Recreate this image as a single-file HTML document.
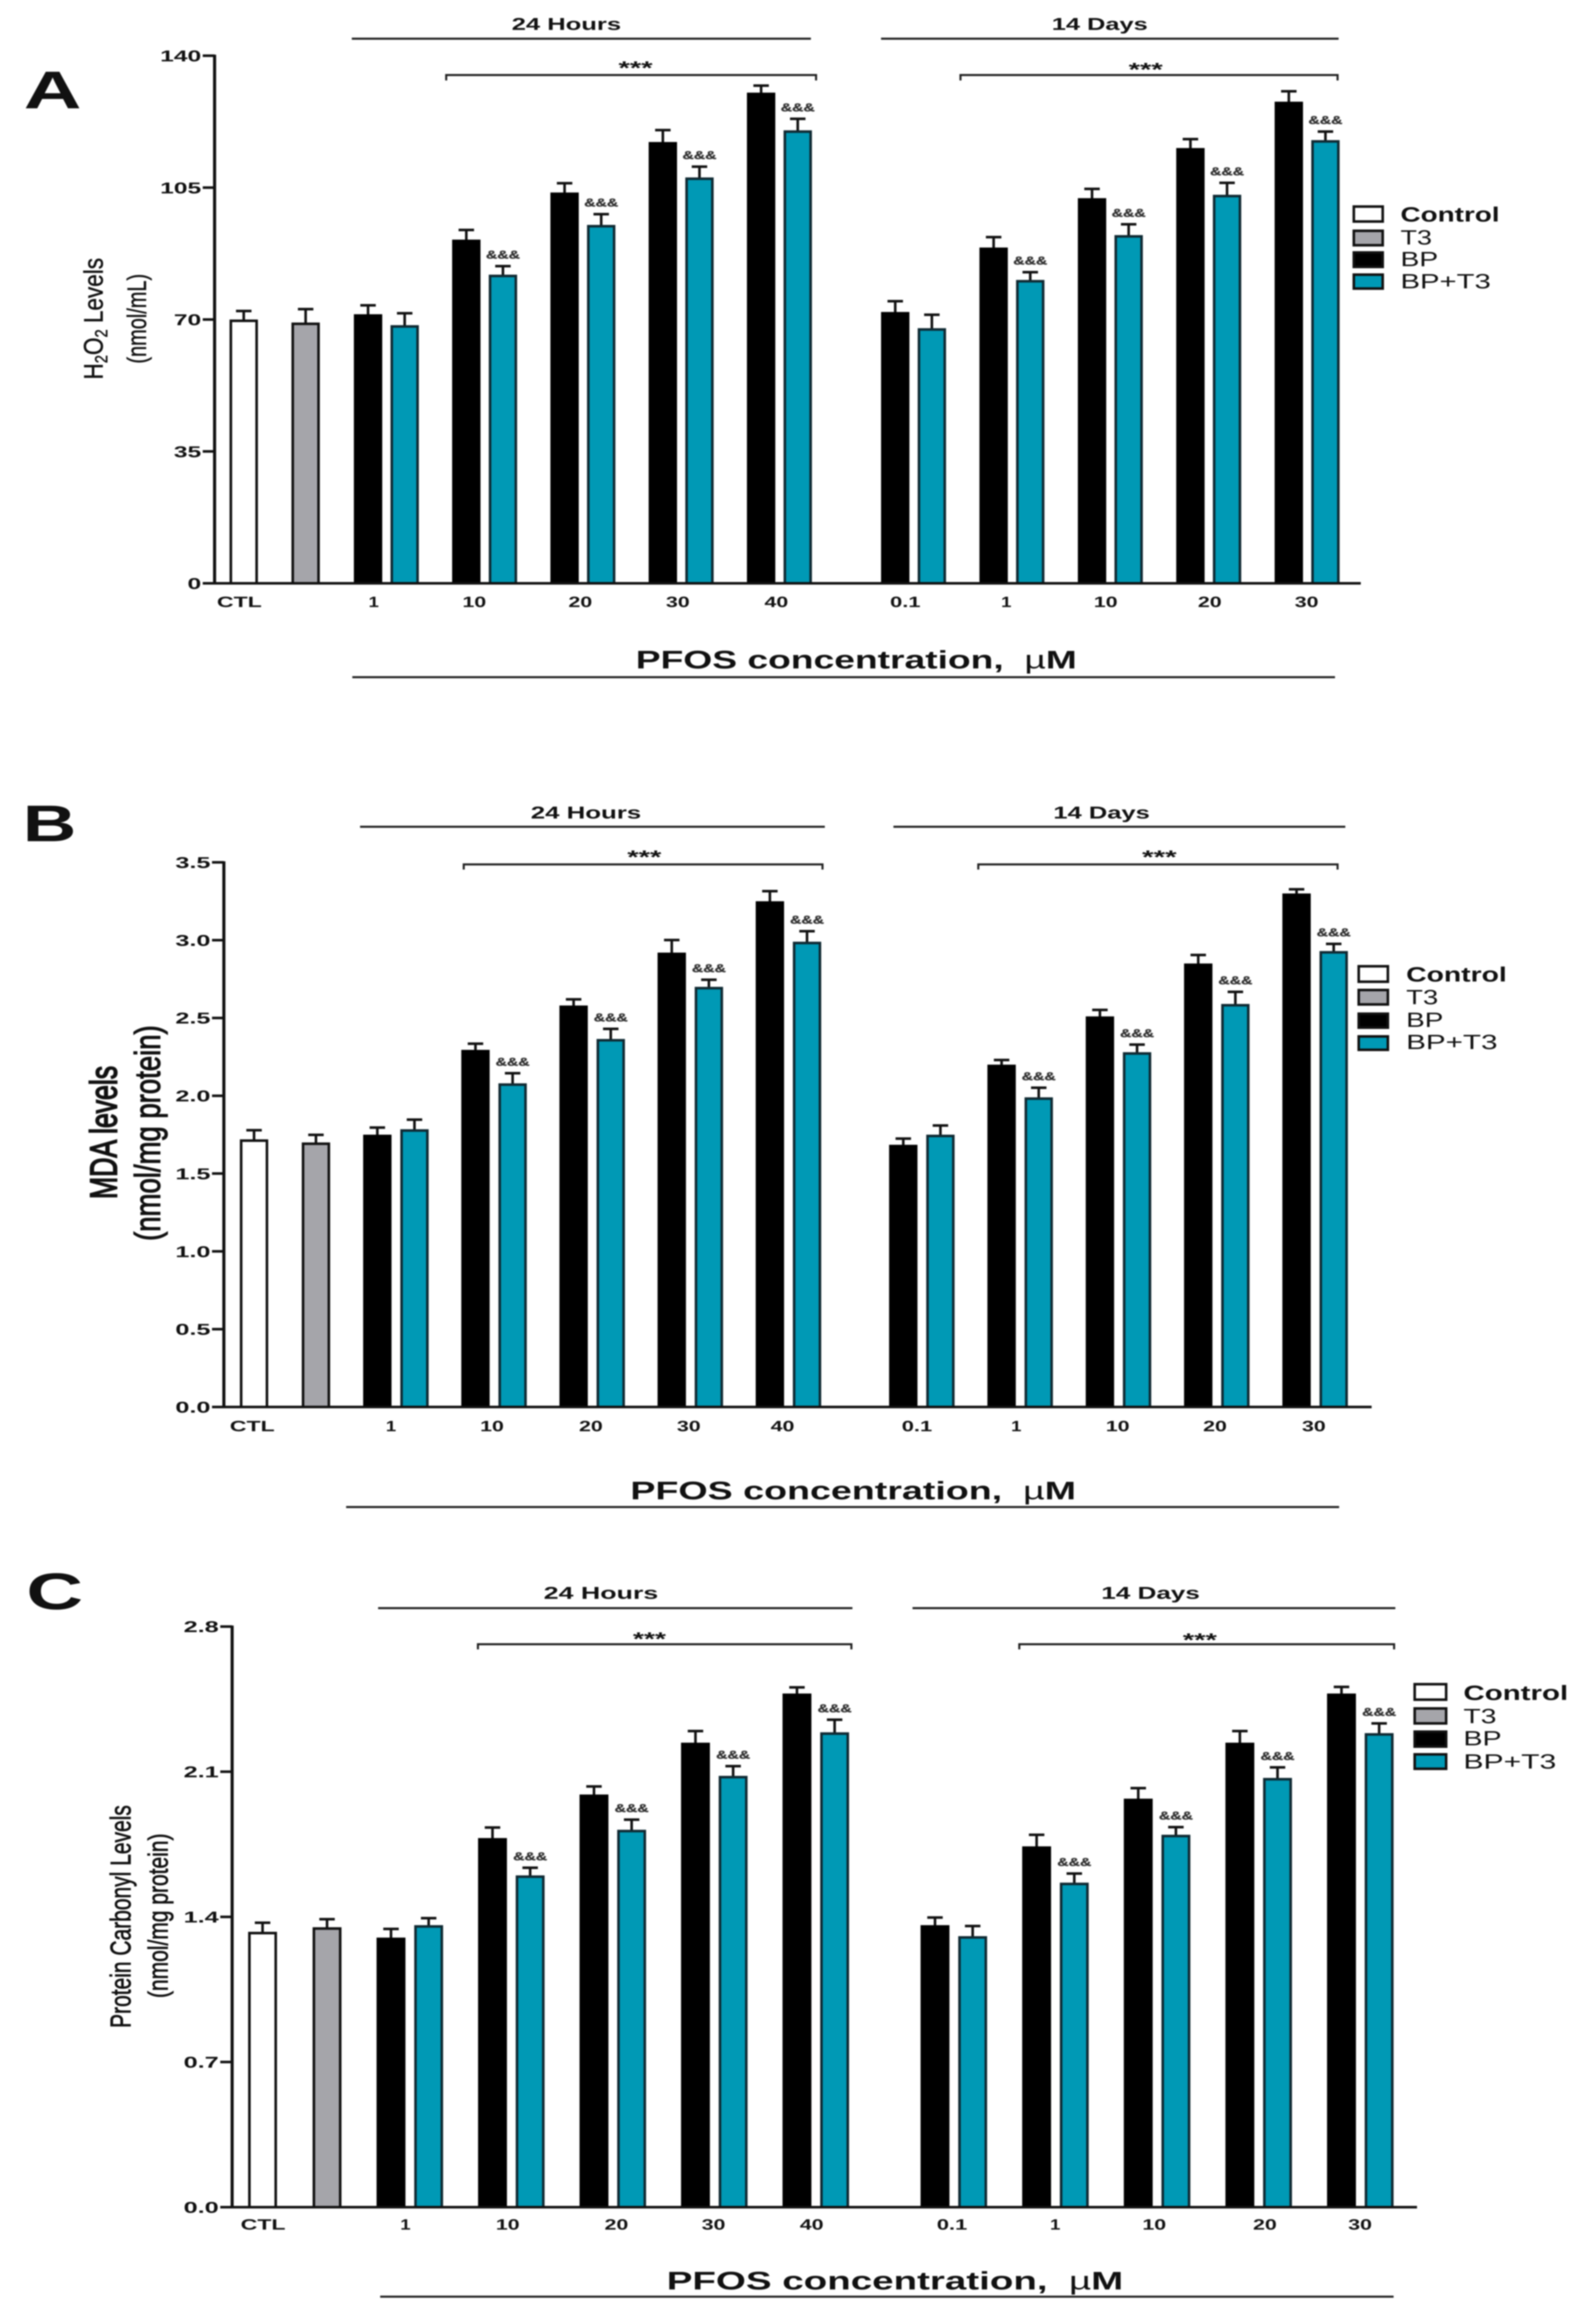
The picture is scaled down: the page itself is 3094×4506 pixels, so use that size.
<!DOCTYPE html>
<html lang="en">
<head>
<meta charset="utf-8">
<title>Oxidative stress markers after PFOS exposure</title>
<style>
html,body{margin:0;padding:0;background:#fff;}
svg{display:block;filter:blur(1.4px);}
text{font-family:"Liberation Sans",Arial,sans-serif;fill:#111;}
.b{font-weight:700;}
.m{text-anchor:middle;}
.line{stroke:#222;stroke-width:4;fill:none;}
.box{stroke:#111;stroke-width:5;}
</style>
</head>
<body>
<svg id="figure" xmlns="http://www.w3.org/2000/svg" width="3094" height="4506" viewBox="0 0 3094 4506">
<rect width="3094" height="4506" fill="#fff"/>

<g id="panel-a">
<text class="b m" x="102" y="210" font-size="103" textLength="112" lengthAdjust="spacingAndGlyphs">A</text>
<text class="m" font-size="52" stroke="#111" stroke-width="0.8" transform="translate(199,618) rotate(-90) scale(0.84,1)">H<tspan font-size="34" dy="9">2</tspan><tspan dy="-9">O</tspan><tspan font-size="34" dy="9">2</tspan><tspan dy="-9"> Levels</tspan></text>
<text class="m" font-size="52" stroke="#111" stroke-width="0.8" textLength="174" lengthAdjust="spacingAndGlyphs" transform="translate(283,618) rotate(-90)">(nmol/mL)</text>
<text class="b m" x="1098" y="58" font-size="33" textLength="212" lengthAdjust="spacingAndGlyphs">24 Hours</text>
<line class="line" x1="682" y1="75" x2="1572" y2="75"/>
<text class="b m" x="2132" y="58" font-size="33" textLength="186" lengthAdjust="spacingAndGlyphs">14 Days</text>
<line class="line" x1="1708" y1="75" x2="2595" y2="75"/>
<path class="line" d="M865 156V145.5H1582V156"/>
<text class="b m" x="1232" y="144" font-size="36" textLength="66" lengthAdjust="spacingAndGlyphs">***</text>
<path class="line" d="M1862 156V145.5H2593V156"/>
<text class="b m" x="2221" y="147" font-size="36" textLength="66" lengthAdjust="spacingAndGlyphs">***</text>
<text class="b m" x="1660" y="1296" font-size="49" textLength="855" lengthAdjust="spacingAndGlyphs">PFOS concentration,&#160;&#160;<tspan font-weight="400">µ</tspan>M</text>
<line class="line" x1="683" y1="1313" x2="2588" y2="1313"/>
<g>
<rect class="box" x="2624.5" y="400.5" width="56" height="29" fill="#fff"/>
<rect class="box" x="2624.5" y="447.5" width="56" height="28" fill="#a5a5aa"/>
<rect class="box" x="2624.5" y="489.5" width="56" height="28" fill="#000"/>
<rect class="box" x="2624.5" y="532.5" width="56" height="27" fill="#0099b5"/>
<text class="b" x="2715" y="429.5" font-size="40" textLength="192" lengthAdjust="spacingAndGlyphs">Control</text>
<text x="2715" y="474" font-size="40" textLength="61" lengthAdjust="spacingAndGlyphs">T3</text>
<text x="2715" y="516" font-size="40" textLength="73" lengthAdjust="spacingAndGlyphs">BP</text>
<text x="2715" y="559" font-size="40" textLength="175" lengthAdjust="spacingAndGlyphs">BP+T3</text>
</g>
</g>

<g id="panel-b">
<text class="b m" x="96" y="1631" font-size="100" textLength="104" lengthAdjust="spacingAndGlyphs">B</text>
<text class="m" font-size="73" textLength="258" lengthAdjust="spacingAndGlyphs" stroke="#111" stroke-width="3" transform="translate(226,2195.75) rotate(-90)">MDA levels</text>
<text class="m" font-size="70" textLength="418" lengthAdjust="spacingAndGlyphs" stroke="#111" stroke-width="2" transform="translate(310,2197) rotate(-90)">(nmol/mg protein)</text>
<text class="b m" x="1136" y="1587" font-size="33" textLength="214" lengthAdjust="spacingAndGlyphs">24 Hours</text>
<line class="line" x1="698" y1="1603" x2="1599" y2="1603"/>
<text class="b m" x="2135.5" y="1587" font-size="33" textLength="187" lengthAdjust="spacingAndGlyphs">14 Days</text>
<line class="line" x1="1732" y1="1603" x2="2608" y2="1603"/>
<path class="line" d="M899 1686V1676H1594.5V1686"/>
<text class="b m" x="1249" y="1674" font-size="36" textLength="66" lengthAdjust="spacingAndGlyphs">***</text>
<path class="line" d="M1896.5 1686V1676H2593V1686"/>
<text class="b m" x="2247.5" y="1674" font-size="36" textLength="67" lengthAdjust="spacingAndGlyphs">***</text>
<text class="b m" x="1654" y="2907" font-size="49" textLength="864" lengthAdjust="spacingAndGlyphs">PFOS concentration,&#160;&#160;<tspan font-weight="400">µ</tspan>M</text>
<line class="line" x1="671" y1="2922" x2="2596" y2="2922"/>
<g>
<rect class="box" x="2634" y="1873.5" width="56.5" height="30" fill="#fff"/>
<rect class="box" x="2634" y="1919.5" width="56.5" height="28" fill="#a5a5aa"/>
<rect class="box" x="2634" y="1965.5" width="56.5" height="27" fill="#000"/>
<rect class="box" x="2634" y="2009.5" width="56.5" height="26" fill="#0099b5"/>
<text class="b" x="2726" y="1903" font-size="40" textLength="195" lengthAdjust="spacingAndGlyphs">Control</text>
<text x="2726" y="1947" font-size="40" textLength="62" lengthAdjust="spacingAndGlyphs">T3</text>
<text x="2726" y="1991" font-size="40" textLength="72" lengthAdjust="spacingAndGlyphs">BP</text>
<text x="2726" y="2034" font-size="40" textLength="177" lengthAdjust="spacingAndGlyphs">BP+T3</text>
</g>
</g>

<g id="panel-c">
<text class="b m" x="106" y="3120" font-size="100" textLength="110" lengthAdjust="spacingAndGlyphs">C</text>
<text class="m" font-size="56" textLength="432" lengthAdjust="spacingAndGlyphs" stroke="#111" stroke-width="1.2" transform="translate(253,3716) rotate(-90)">Protein Carbonyl Levels</text>
<text class="m" font-size="54" textLength="319" lengthAdjust="spacingAndGlyphs" stroke="#111" stroke-width="1.2" transform="translate(325,3714.5) rotate(-90)">(nmol/mg protein)</text>
<text class="b m" x="1165" y="3100" font-size="33" textLength="222" lengthAdjust="spacingAndGlyphs">24 Hours</text>
<line class="line" x1="733" y1="3118" x2="1652.5" y2="3118"/>
<text class="b m" x="2230.5" y="3100" font-size="33" textLength="191" lengthAdjust="spacingAndGlyphs">14 Days</text>
<line class="line" x1="1769" y1="3118" x2="2705" y2="3118"/>
<path class="line" d="M926.5 3198V3188H1650.5V3198"/>
<text class="b m" x="1259" y="3190" font-size="36" textLength="64" lengthAdjust="spacingAndGlyphs">***</text>
<path class="line" d="M1976 3198V3188H2702.6V3198"/>
<text class="b m" x="2326" y="3192" font-size="36" textLength="66" lengthAdjust="spacingAndGlyphs">***</text>
<text class="b m" x="1735" y="4439" font-size="49" textLength="885" lengthAdjust="spacingAndGlyphs">PFOS concentration,&#160;&#160;<tspan font-weight="400">µ</tspan>M</text>
<line class="line" x1="737" y1="4453" x2="2701.6" y2="4453"/>
<g>
<rect class="box" x="2742.5" y="3265.5" width="61" height="30" fill="#fff"/>
<rect class="box" x="2742.5" y="3312.5" width="61" height="29" fill="#a5a5aa"/>
<rect class="box" x="2742.5" y="3357.5" width="61" height="29" fill="#000"/>
<rect class="box" x="2742.5" y="3401.5" width="61" height="28" fill="#0099b5"/>
<text class="b" x="2837" y="3296" font-size="40" textLength="203" lengthAdjust="spacingAndGlyphs">Control</text>
<text x="2837" y="3341" font-size="40" textLength="64" lengthAdjust="spacingAndGlyphs">T3</text>
<text x="2837" y="3384" font-size="40" textLength="74" lengthAdjust="spacingAndGlyphs">BP</text>
<text x="2837" y="3429" font-size="40" textLength="180" lengthAdjust="spacingAndGlyphs">BP+T3</text>
</g>
</g>
</svg>

<script>
// Shared category labels
const controlLabels = ['CTL'];
const hourLabels = ['1', '10', '20', '30', '40'];
const dayLabels = ['0.1', '1', '10', '20', '30'];

// Panel A: H2O2 levels (nmol/mL)
const aTicks = [0, 35, 70, 105, 140];
const aTickLabels = ['0', '35', '70', '105', '140'];
const aControl = [70.0];
const aControlErr = [2.6];
const aT3 = [69.2];
const aT3Err = [3.9];
const aBpHours = [71.4, 91.2, 103.7, 117.1, 130.2];
const aBpHoursErr = [2.7, 2.9, 2.8, 3.5, 2.2];
const aBpT3Hours = [68.5, 81.9, 95.1, 107.7, 120.2];
const aBpT3HoursErr = [3.5, 2.6, 3.2, 3.2, 3.4];
const aBpDays = [72.0, 89.1, 102.2, 115.5, 127.8];
const aBpDaysErr = [3.2, 3.1, 2.8, 2.7, 3.1];
const aBpT3Days = [67.7, 80.5, 92.4, 103.1, 117.6];
const aBpT3DaysErr = [3.9, 2.4, 3.2, 3.5, 2.6];

// Panel B: MDA levels (nmol/mg protein)
const bTicks = [0, 0.5, 1, 1.5, 2, 2.5, 3, 3.5];
const bTickLabels = ['0.0', '0.5', '1.0', '1.5', '2.0', '2.5', '3.0', '3.5'];
const bControl = [1.72];
const bControlErr = [0.067];
const bT3 = [1.70];
const bT3Err = [0.057];
const bBpHours = [1.75, 2.295, 2.58, 2.92, 3.25];
const bBpHoursErr = [0.054, 0.048, 0.048, 0.089, 0.073];
const bBpT3Hours = [1.785, 2.08, 2.365, 2.70, 2.99];
const bBpT3HoursErr = [0.07, 0.073, 0.073, 0.054, 0.076];
const bBpDays = [1.685, 2.20, 2.51, 2.85, 3.30];
const bBpDaysErr = [0.048, 0.038, 0.05, 0.063, 0.035];
const bBpT3Days = [1.75, 1.99, 2.28, 2.59, 2.93];
const bBpT3DaysErr = [0.067, 0.07, 0.057, 0.086, 0.054];

// Panel C: protein carbonyl levels (nmol/mg protein)
const cTicks = [0, 0.7, 1.4, 2.1, 2.8];
const cTickLabels = ['0.0', '0.7', '1.4', '2.1', '2.8'];
const cControl = [1.328];
const cControlErr = [0.05];
const cT3 = [1.35];
const cT3Err = [0.045];
const cBpHours = [1.30, 1.78, 1.99, 2.24, 2.477];
const cBpHoursErr = [0.048, 0.057, 0.045, 0.062, 0.036];
const cBpT3Hours = [1.36, 1.60, 1.82, 2.08, 2.29];
const cBpT3HoursErr = [0.04, 0.043, 0.055, 0.053, 0.067];
const cBpDays = [1.36, 1.74, 1.97, 2.24, 2.477];
const cBpDaysErr = [0.043, 0.062, 0.057, 0.062, 0.038];
const cBpT3Days = [1.307, 1.565, 1.796, 2.07, 2.286];
const cBpT3DaysErr = [0.055, 0.05, 0.043, 0.057, 0.053];

const SVG_NS = 'http://www.w3.org/2000/svg';
const TEAL = '#0099b5';
const GRAY = '#a5a5aa';

function shape(parent, tag, attrs) {
  const el = document.createElementNS(SVG_NS, tag);
  for (const key in attrs) el.setAttribute(key, attrs[key]);
  parent.appendChild(el);
  return el;
}

function textWidth(str, digit, dot) {
  let w = 0;
  for (const ch of str) w += ch === '.' ? dot : digit;
  return w;
}

function drawBar(parent, p, y, left, value, err, fill, border) {
  const mid = left + p.barW / 2;
  const topY = y(value);
  const capY = y(value + err) + 2.5;
  const stem = shape(parent, 'line', {x1: mid, x2: mid, y1: topY + 2, y2: capY, stroke: '#111', 'stroke-width': 5});
  
  
  const cap = shape(parent, 'line', {x1: mid - 15, x2: mid + 15, y1: capY, y2: capY, stroke: '#111', 'stroke-width': 5});
  
  
  const bar = shape(parent, 'rect', {x: left + 2.5, y: topY + 2.5, width: p.barW - 5, height: p.y0 - topY - 2.5, fill: fill, stroke: border, 'stroke-width': 5});
  
  
}

function drawMark(parent, p, y, left, value, err) {
  const mark = shape(parent, 'text', {x: left + p.barW / 2, y: y(value + err) - 12, 'font-size': 22, 'font-weight': 700, 'text-anchor': 'middle', textLength: 66, lengthAdjust: 'spacingAndGlyphs', stroke: '#333', 'stroke-width': 0.6, style: 'fill:#333'});
  mark.textContent = '&&&';
  
  
}

function drawXLabel(parent, x, baseline, str) {
  const width = str === 'CTL' ? 87 : (str === '1' ? 20 : textWidth(str, 23, 13));
  const t = shape(parent, 'text', {x: x, y: baseline, 'font-size': 29, 'font-weight': 700, 'text-anchor': 'middle', textLength: width, lengthAdjust: 'spacingAndGlyphs'});
  t.textContent = str;
  
  
}

function drawPanel(p) {
  const root = document.getElementById(p.id);
  const y = function (v) { return p.y0 - v / p.yMax * (p.y0 - p.yTop); };

  p.bpHours.forEach(function (v, i) {
    const left = p.hoursLeft + i * p.hoursPitch;
    drawBar(root, p, y, left, v, p.bpHoursErr[i], '#000', '#000');
    drawBar(root, p, y, left + p.tealDx, p.bpT3Hours[i], p.bpT3HoursErr[i], TEAL, '#102a33');
    if (i > 0) drawMark(root, p, y, left + p.tealDx, p.bpT3Hours[i], p.bpT3HoursErr[i]);
    drawXLabel(root, left + p.hoursLabelDx[i], p.xLabelY, hourLabels[i]);
  });
  p.bpDays.forEach(function (v, i) {
    const left = p.daysLeft + i * p.daysPitch;
    drawBar(root, p, y, left, v, p.bpDaysErr[i], '#000', '#000');
    drawBar(root, p, y, left + p.tealDx, p.bpT3Days[i], p.bpT3DaysErr[i], TEAL, '#102a33');
    if (i > 0) drawMark(root, p, y, left + p.tealDx, p.bpT3Days[i], p.bpT3DaysErr[i]);
    drawXLabel(root, left + p.daysLabelDx[i], p.xLabelY, dayLabels[i]);
  });
  drawBar(root, p, y, p.controlLeft, p.control[0], p.controlErr[0], '#fff', '#111');
  drawBar(root, p, y, p.t3Left, p.t3[0], p.t3Err[0], GRAY, '#111');
  drawXLabel(root, p.controlLeft + p.controlLabelDx, p.xLabelY, controlLabels[0]);

  const yAxis = shape(root, 'line', {x1: p.axisX, x2: p.axisX, y1: p.yTop - 2, y2: p.y0 + 2, stroke: '#111', 'stroke-width': 6});
  
  
  const xAxis = shape(root, 'line', {x1: p.axisX - 2, x2: p.axisEnd, y1: p.y0, y2: p.y0, stroke: '#111', 'stroke-width': 5});
  
  

  p.ticks.forEach(function (v, i) {
    const tick = shape(root, 'line', {x1: p.axisX - 23, x2: p.axisX, y1: y(v), y2: y(v), stroke: '#111', 'stroke-width': 5});
    
    
    const str = p.tickLabels[i];
    const lab = shape(root, 'text', {x: p.axisX - 26, y: y(v) + 11, 'font-size': 31, 'font-weight': 700, 'text-anchor': 'end', textLength: textWidth(str, 26.5, 15), lengthAdjust: 'spacingAndGlyphs'});
    lab.textContent = str;
    
    
  });
}

drawPanel({
  id: 'panel-a', axisX: 416, axisEnd: 2638, y0: 1131, yTop: 108, yMax: 140,
  barW: 55, tealDx: 71, controlLeft: 445, t3Left: 565,
  hoursLeft: 686, hoursPitch: 190.5, daysLeft: 1708, daysPitch: 190.75,
  xLabelY: 1177, controlLabelDx: 19,
  hoursLabelDx: [38.5, 43, 58, 56.5, 57],
  daysLabelDx: [47, 52, 54, 65, 62],
  ticks: aTicks, tickLabels: aTickLabels,
  control: aControl, controlErr: aControlErr, t3: aT3, t3Err: aT3Err,
  bpHours: aBpHours, bpHoursErr: aBpHoursErr, bpT3Hours: aBpT3Hours, bpT3HoursErr: aBpT3HoursErr,
  bpDays: aBpDays, bpDaysErr: aBpDaysErr, bpT3Days: aBpT3Days, bpT3DaysErr: aBpT3DaysErr
});

drawPanel({
  id: 'panel-b', axisX: 434, axisEnd: 2659, y0: 2728, yTop: 1672, yMax: 3.5,
  barW: 55, tealDx: 72, controlLeft: 465, t3Left: 585,
  hoursLeft: 704, hoursPitch: 190.25, daysLeft: 1723.6, daysPitch: 190.6,
  xLabelY: 2775, controlLabelDx: 24,
  hoursLabelDx: [54, 59.5, 61, 60.5, 52],
  daysLabelDx: [54, 56, 62, 60, 61],
  ticks: bTicks, tickLabels: bTickLabels,
  control: bControl, controlErr: bControlErr, t3: bT3, t3Err: bT3Err,
  bpHours: bBpHours, bpHoursErr: bBpHoursErr, bpT3Hours: bBpT3Hours, bpT3HoursErr: bBpT3HoursErr,
  bpDays: bBpDays, bpDaysErr: bBpDaysErr, bpT3Days: bBpT3Days, bpT3DaysErr: bBpT3DaysErr
});

drawPanel({
  id: 'panel-c', axisX: 450, axisEnd: 2747, y0: 4279.5, yTop: 3153.7, yMax: 2.8,
  barW: 56, tealDx: 73, controlLeft: 481, t3Left: 606,
  hoursLeft: 730, hoursPitch: 196.75, daysLeft: 1784.6, daysPitch: 197,
  xLabelY: 4323, controlLabelDx: 29,
  hoursLabelDx: [56, 57.5, 71.5, 63, 56.5],
  daysLabelDx: [61, 64, 59, 76.5, 64],
  ticks: cTicks, tickLabels: cTickLabels,
  control: cControl, controlErr: cControlErr, t3: cT3, t3Err: cT3Err,
  bpHours: cBpHours, bpHoursErr: cBpHoursErr, bpT3Hours: cBpT3Hours, bpT3HoursErr: cBpT3HoursErr,
  bpDays: cBpDays, bpDaysErr: cBpDaysErr, bpT3Days: cBpT3Days, bpT3DaysErr: cBpT3DaysErr
});
</script>
</body>
</html>
